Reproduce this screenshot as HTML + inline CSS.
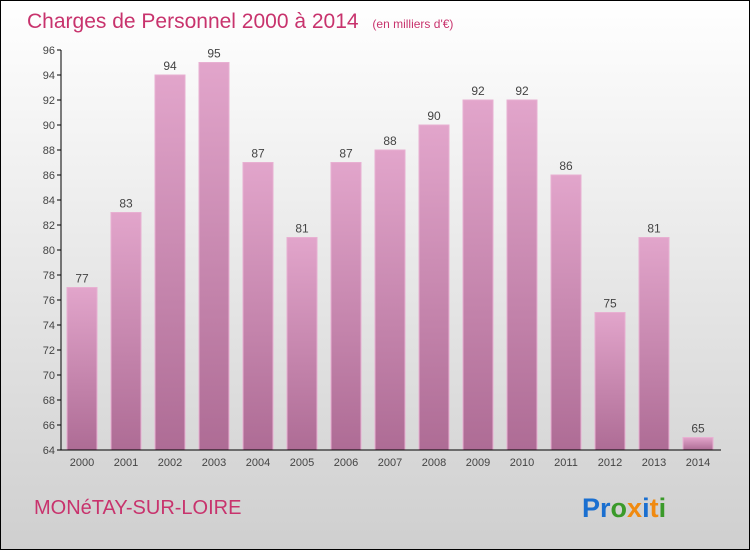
<!DOCTYPE html>
<html><head><meta charset="utf-8"><style>
body{margin:0;width:750px;height:550px;overflow:hidden}
svg{display:block;font-family:"Liberation Sans",sans-serif}
</style></head><body>
<svg id="c" width="750" height="550">
<defs>
<linearGradient id="bg" x1="0" y1="0" x2="0" y2="1"><stop offset="0" stop-color="#ffffff"/><stop offset="1" stop-color="#cfcfcf"/></linearGradient>
<linearGradient id="bar" x1="0" y1="0" x2="0" y2="1"><stop offset="0" stop-color="#e2a5cb"/><stop offset="1" stop-color="#ae6c95"/></linearGradient>
</defs>
<rect x="0.5" y="0.5" width="749" height="549" fill="url(#bg)" stroke="#000"/>
<text x="27" y="28" font-size="21" fill="#c8336d">Charges de Personnel 2000 à 2014 <tspan font-size="12" dx="8">(en milliers d'€)</tspan></text>
<text x="34" y="514" font-size="20" fill="#c8336d">MONéTAY-SUR-LOIRE</text>
<text x="582" y="517" font-size="27" font-weight="bold"><tspan fill="#1a6fd0">Pr</tspan><tspan fill="#3a9a2a">o</tspan><tspan fill="#f08a10">x</tspan><tspan fill="#1a6fd0">i</tspan><tspan fill="#f08a10">t</tspan><tspan fill="#3a9a2a">i</tspan></text>
<g id="plot"></g>
</svg>
<script>
const categories=["2000","2001","2002","2003","2004","2005","2006","2007","2008","2009","2010","2011","2012","2013","2014"];
const values=[77,83,94,95,87,81,87,88,90,92,92,86,75,81,65];
const yTicks=[64,66,68,70,72,74,76,78,80,82,84,86,88,90,92,94,96];
const NS="http://www.w3.org/2000/svg";
const g=document.getElementById('plot');
const y=v=>450-(v-64)*12.5;
const x=i=>82+i*44;
function mk(t,a){const e=document.createElementNS(NS,t);for(const k in a)e.setAttribute(k,a[k]);g.appendChild(e);return e;}
yTicks.forEach(t=>{
 const l=mk('line',{x1:57,x2:61,y1:y(t),y2:y(t),stroke:'#000'});
 
 
 const tx=mk('text',{x:55,y:y(t)+4,'text-anchor':'end','font-size':11,fill:'#444'});
 tx.textContent=t;
 
 
});
values.forEach((v,i)=>{
 const r=mk('rect',{x:x(i)-15,y:y(v),width:30,height:450-y(v),fill:'url(#bar)',stroke:'#e8b0d2','stroke-width':1});
 
 
 const t=mk('text',{x:x(i),y:y(v)-5,'text-anchor':'middle','font-size':12,fill:'#444'});
 t.textContent=v;
 
 
 const c=mk('text',{x:x(i),y:466,'text-anchor':'middle','font-size':11,fill:'#444'});
 c.textContent=categories[i];
 
 
});
const ya=mk('line',{x1:61,x2:61,y1:50,y2:450,stroke:'#000'});


const xa=mk('line',{x1:61,x2:721,y1:450,y2:450,stroke:'#000'});


</script>
</body></html>
